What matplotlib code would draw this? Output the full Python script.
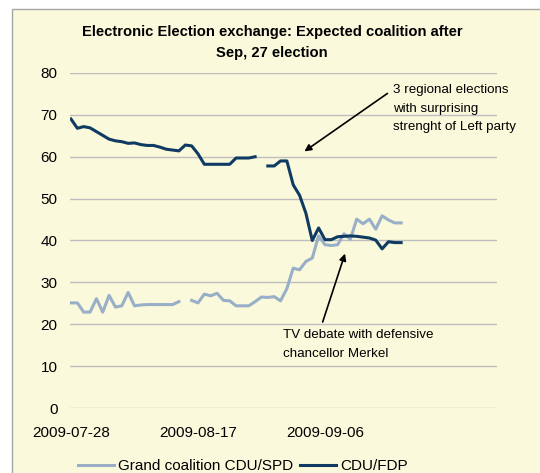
#import libraries
import numpy as np
import pandas as pd
import matplotlib
matplotlib.use('Agg')
import matplotlib.pyplot as plt
from matplotlib.patches import Rectangle

plt.rcParams['font.family'] = ['Liberation Sans', 'DejaVu Sans']

#data (daily, nan = no quote that day)
dates = pd.date_range('2009-07-28', periods=53, freq='D')
nan = np.nan
grand_coalition = [25.1, 25.1, 22.9, 22.9, 26.1, 22.9, 26.9, 24.1, 24.4, 27.6,
                   24.4, 24.6, 24.7, 24.7, 24.7, 24.7, 24.7, 25.4, nan, 25.7,
                   25.1, 27.2, 26.8, 27.4, 25.7, 25.6, 24.4, 24.4, 24.4, 25.4,
                   26.5, 26.4, 26.6, 25.6, 28.5, 33.4, 33.0, 35.0, 35.8, 41.1,
                   39.0, 38.8, 39.0, 41.6, 40.3, 45.1, 44.0, 45.1, 42.7, 45.9,
                   44.9, 44.2, 44.2]
cdu_fdp = [69.0, 66.8, 67.2, 66.9, 66.0, 65.1, 64.2, 63.8, 63.6, 63.2,
           63.3, 62.9, 62.7, 62.7, 62.3, 61.8, 61.6, 61.4, 62.8, 62.6,
           60.7, 58.2, 58.2, 58.2, 58.2, 58.2, 59.7, 59.7, 59.7, 60.0,
           nan, 57.8, 57.8, 59.0, 59.0, 53.3, 50.8, 46.5, 40.0, 43.0,
           40.2, 40.2, 40.9, 41.0, 41.1, 41.0, 40.8, 40.6, 40.1, 38.0,
           39.7, 39.5, 39.5]
series_names = ['Grand coalition CDU/SPD', 'CDU/FDP']
tick_dates = ['2009-07-28', '2009-08-17', '2009-09-06']
title = 'Electronic Election exchange: Expected coalition after\nSep, 27 election'
note1 = '3 regional elections\nwith surprising\nstrenght of Left party'
note2 = 'TV debate with defensive\nchancellor Merkel'

light = '#98AFC7'
dark = '#0F3B62'
bg = '#FBF9DC'

fig = plt.figure(figsize=(5.4, 4.73), dpi=100, facecolor='white')
#chart area box
fig.patches.append(Rectangle((12/540, -0.1), 1.0, 1.1 - 9/473, transform=fig.transFigure,
                             facecolor=bg, edgecolor='#A6A6A6', linewidth=1.0, zorder=-5))

ax = fig.add_axes([70/540, 1-408/473, 427/540, (408-73)/473])
ax.set_facecolor('none')

ax.plot(dates, grand_coalition, color=light, linewidth=2.2, label=series_names[0], zorder=3)
ax.plot(dates, cdu_fdp, color=dark, linewidth=2.2, label=series_names[1], zorder=4)

day = pd.Timedelta(days=1)
ax.set_xlim(dates[0] - 0.16*day, dates[0] + 67.1*day)
ax.set_ylim(0, 80)
ax.set_yticks(np.arange(0, 81, 10))
ax.set_xticks(pd.to_datetime(tick_dates))
ax.set_xticklabels(tick_dates)
ax.tick_params(axis='both', length=0, labelsize=11, colors='black')
ax.tick_params(axis='y', pad=9)
ax.tick_params(axis='x', pad=13)
ax.grid(axis='y', color='#BEBEBE', linewidth=1.0)
ax.grid(axis='x', visible=False)
for s in ax.spines.values():
    s.set_visible(False)

#annotations
d0 = dates[0]
ax.annotate('', xy=(d0 + 36.4*day, 60.9), xytext=(d0 + 50.2*day, 75.5),
            arrowprops=dict(arrowstyle='-|>', color='black', lw=1.2, mutation_scale=10))
ax.text(d0 + 50.7*day, 77.4, note1, fontsize=9.6, va='top', ha='left', linespacing=1.75)
ax.annotate('', xy=(d0 + 43.3*day, 37.5), xytext=(d0 + 39.5*day, 19.9),
            arrowprops=dict(arrowstyle='-|>', color='black', lw=1.2, mutation_scale=10))
ax.text(d0 + 33.4*day, 18.9, note2, fontsize=9.6, va='top', ha='left', linespacing=1.75)

fig.text(272/540, 1-42.5/473, title, fontsize=10.6, fontweight='bold', ha='center', va='center',
         linespacing=1.55)

fig.legend(loc='center', bbox_to_anchor=(243/540, 1-466/473), ncol=2, frameon=False,
           fontsize=11, handlelength=2.35, handletextpad=0.26, columnspacing=0.45)

plt.savefig('out.png', dpi=100, facecolor='white')
